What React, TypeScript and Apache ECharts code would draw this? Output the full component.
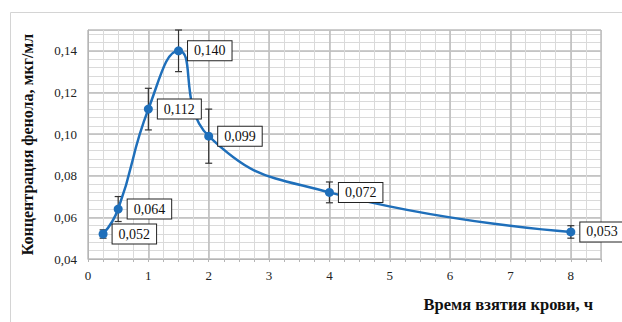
import React, { useEffect, useRef } from "react";
import * as echarts from "echarts";

const times = [0.25, 0.5, 1, 1.5, 2, 4, 8];
const conc = [0.052, 0.064, 0.112, 0.14, 0.099, 0.072, 0.053];
const errs = [0.002, 0.006, 0.01, 0.01, 0.013, 0.005, 0.003];
const labels = ["0,052", "0,064", "0,112", "0,140", "0,099", "0,072", "0,053"];
const yAxisTitle = "Концентрация фенола, мкг/мл";
const xAxisTitle = "Время взятия крови, ч";

const FONT = "Times New Roman, Liberation Serif, DejaVu Serif, serif";
const BLUE = "#1f6fba";
const MAJOR = "#bcbcbc";
const MINOR = "#dadada";

export default function App() {
  const ref = useRef<HTMLDivElement>(null);
  useEffect(() => {
    if (!ref.current) return;
    const chart = echarts.init(ref.current, undefined, { renderer: "svg" });
    const lineData = times.map((t, i) => [t, conc[i]]);
    const errData = times.map((t, i) => [t, conc[i] - errs[i], conc[i] + errs[i]]);
    chart.setOption({
      animation: false,
      textStyle: { fontFamily: FONT },
      grid: { left: 88, right: 21, top: 30, bottom: 63, containLabel: false },
      graphic: [
        {
          type: "rect",
          shape: { x: 10.5, y: 12.5, width: 800, height: 500 },
          style: { fill: "transparent", stroke: "#d4d4d4", lineWidth: 1 },
          silent: true,
        },
        {
          type: "text",
          x: 593,
          y: 304,
          style: {
            text: xAxisTitle,
            fontFamily: FONT,
            fontSize: 16.5,
            fontWeight: "bold",
            fill: "#111",
            align: "right",
            verticalAlign: "middle",
          },
        },
      ],
      xAxis: [
        {
          type: "value",
          min: 0,
          max: 8.5,
          interval: 0.25,
          position: "bottom",
          axisLine: { show: true, onZero: false, lineStyle: { color: "#b5b5b5", width: 1 } },
          axisTick: { show: true, length: 3, lineStyle: { color: "#b5b5b5" } },
          axisLabel: { show: false },
          splitLine: { show: true, lineStyle: { color: MINOR, width: 1 } },
        },
        {
          type: "value",
          min: 0,
          max: 8.5,
          interval: 1,
          position: "bottom",
          axisLine: { show: false, onZero: false },
          axisTick: { show: false },
          axisLabel: {
            margin: 10,
            fontFamily: FONT,
            fontSize: 13,
            color: "#222",
            formatter: (v: number) => (Math.abs(v - Math.round(v)) < 1e-6 ? String(Math.round(v)) : ""),
          },
          splitLine: { show: true, lineStyle: { color: MAJOR, width: 1.5 } },
        },
      ],
      yAxis: [
        {
          type: "value",
          min: 0.04,
          max: 0.15,
          interval: 0.004,
          axisLine: { show: false },
          axisTick: { show: false },
          axisLabel: { show: false },
          splitLine: { show: true, lineStyle: { color: MINOR, width: 1 } },
        },
        {
          type: "value",
          min: 0.04,
          max: 0.15,
          interval: 0.02,
          position: "left",
          name: yAxisTitle,
          nameLocation: "middle",
          nameGap: 53,
          nameRotate: 90,
          nameTextStyle: { fontFamily: FONT, fontSize: 16, fontWeight: "bold", color: "#111" },
          axisLine: { show: true, onZero: false, lineStyle: { color: "#b5b5b5" } },
          axisTick: { show: false },
          axisLabel: {
            margin: 11,
            fontFamily: FONT,
            fontSize: 13,
            color: "#222",
            formatter: (v: number) =>
              Math.abs(v * 50 - Math.round(v * 50)) < 1e-6 ? v.toFixed(2).replace(".", ",") : "",
          },
          splitLine: { show: true, lineStyle: { color: MAJOR, width: 1.5 } },
        },
      ],
      series: [
        {
          type: "custom",
          xAxisIndex: 1,
          yAxisIndex: 1,
          clip: false,
          z: 10,
          data: errData,
          renderItem: (params: any, api: any) => {
            const x = api.value(0);
            const lo = api.coord([x, api.value(1)]);
            const hi = api.coord([x, api.value(2)]);
            const w = 3.5;
            const style = { stroke: "#333", lineWidth: 1.2 };
            return {
              type: "group",
              z2: 10,
              children: [
                { type: "line", z2: 10, shape: { x1: lo[0], y1: lo[1], x2: hi[0], y2: hi[1] }, style },
                { type: "line", z2: 10, shape: { x1: lo[0] - w, y1: lo[1], x2: lo[0] + w, y2: lo[1] }, style },
                { type: "line", z2: 10, shape: { x1: hi[0] - w, y1: hi[1], x2: hi[0] + w, y2: hi[1] }, style },
              ],
            };
          },
        },
        {
          type: "line",
          xAxisIndex: 1,
          yAxisIndex: 1,
          data: lineData,
          smooth: 0.5,
          z: 12,
          symbol: "circle",
          symbolSize: 9,
          itemStyle: { color: BLUE },
          lineStyle: { color: BLUE, width: 2.5 },
          label: {
            show: true,
            position: "right",
            distance: 5,
            formatter: (p: any) => labels[p.dataIndex],
            fontFamily: FONT,
            fontSize: 14,
            color: "#111",
            backgroundColor: "#fff",
            borderColor: "#222",
            borderWidth: 1,
            padding: [3, 6, 2, 6],
          },
        },
      ],
    });
    return () => chart.dispose();
  }, []);
  return (
    <div
      ref={ref}
      style={{ position: "fixed", left: 0, top: 0, width: 622, height: 322, background: "#fff" }}
    />
  );
}
